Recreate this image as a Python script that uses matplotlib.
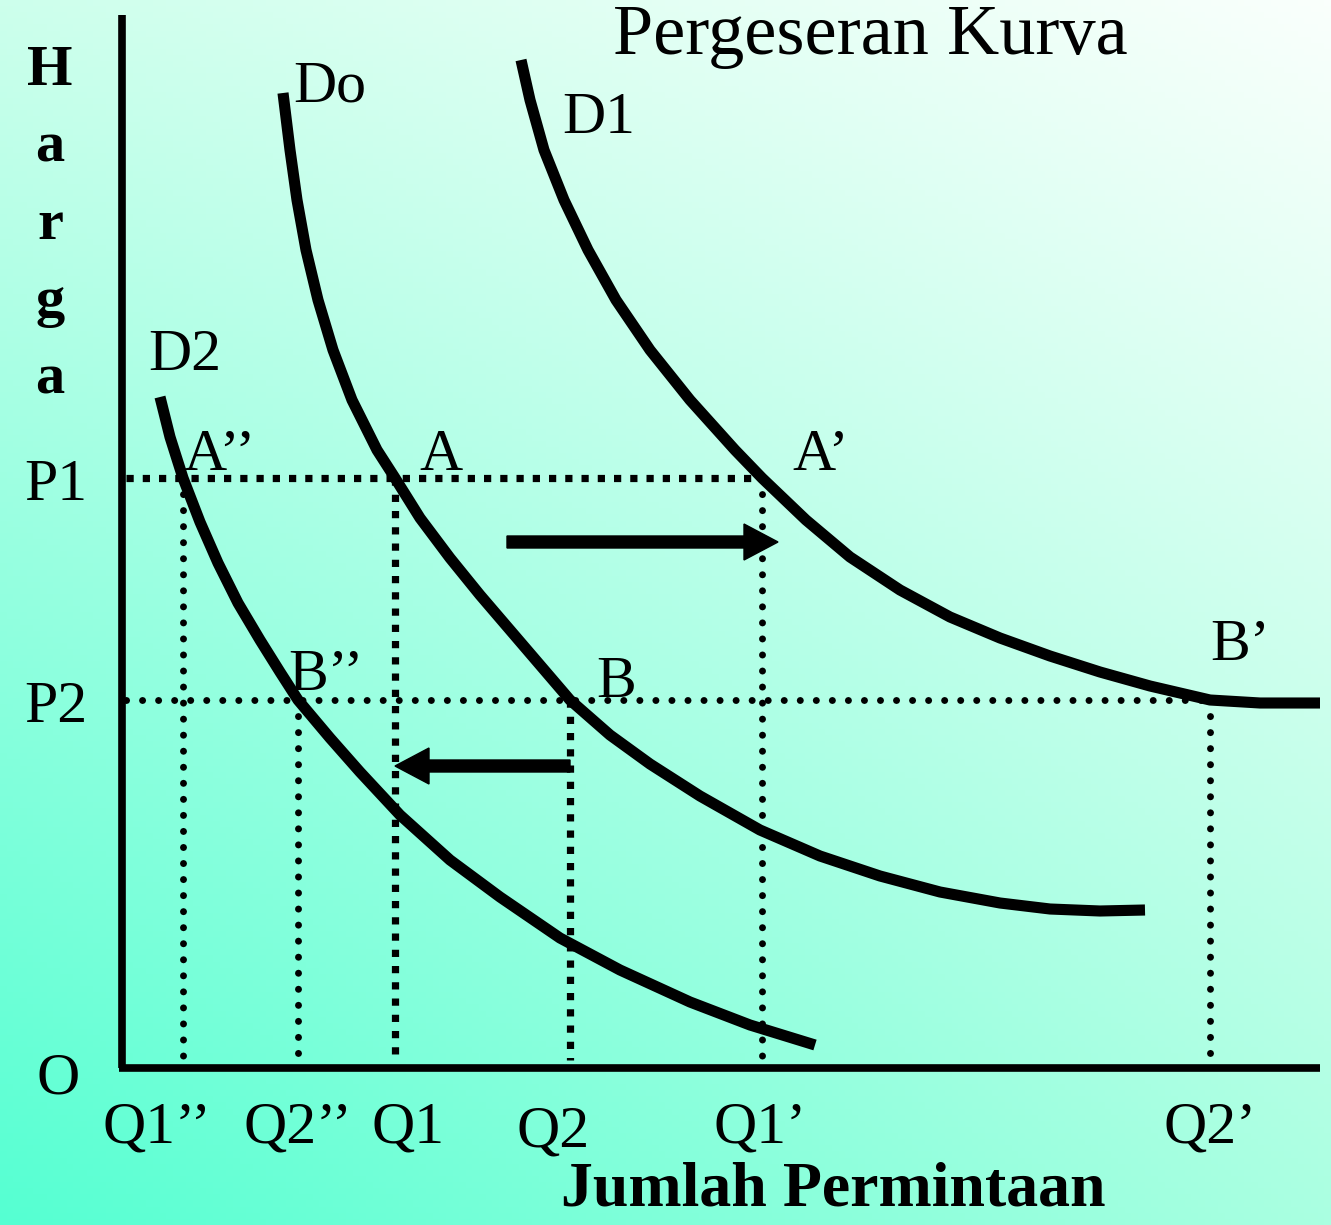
import numpy as np
import matplotlib
matplotlib.use("Agg")
import matplotlib.pyplot as plt

plt.rcParams["font.family"] = ["Liberation Serif", "DejaVu Serif"]

# quantity / price units (origin at the axis corner)
do_q = [161, 168, 175, 184, 196, 211, 230, 255, 273, 298, 328, 358, 388, 418, 448,
        488, 528, 578, 638, 698, 758, 818, 878, 928, 978, 1023]
do_p = [975, 918, 868, 818, 768, 718, 668, 618, 590, 550, 510, 473, 438, 403, 368,
        333, 304, 272, 238, 212, 192, 176, 165, 159, 157, 158]

d1_q = [399, 408, 422, 442, 466, 494, 528, 568, 613, 640, 684, 728, 778, 828, 878,
        928, 978, 1028, 1088, 1138, 1198]
d1_p = [1008, 968, 918, 868, 818, 768, 718, 668, 618, 590, 548, 511, 478, 451, 430,
        412, 396, 382, 368, 365, 365]

d2_q = [38, 48, 61, 78, 96, 116, 138, 158, 176, 208, 238, 278, 328, 378, 438, 498,
        568, 628, 693]
d2_p = [671, 631, 590, 546, 505, 465, 428, 396, 368, 330, 296, 253, 208, 171, 130,
        98, 66, 43, 23]

price_levels = {"P1": 590, "P2": 368}
qty_levels = {"Q1’’": 61, "Q2’’": 176, "Q1": 273, "Q2": 448, "Q1’": 640, "Q2’": 1088}

# (label, q, p) for the intersection points
points = [("A’’", 61, 590), ("A", 273, 590), ("A’", 640, 590),
          ("B’’", 176, 368), ("B", 448, 368), ("B’", 1088, 368)]

W, H = 1331, 1225
X0, Y0 = 122, 1068  # pixel position of the origin

fig = plt.figure(figsize=(W / 100, H / 100), dpi=100)
ax = fig.add_axes([0, 0, 1, 1])
ax.set_xlim(-X0, W - X0)
ax.set_ylim(Y0 - H, Y0)
ax.axis("off")

# background gradient (bilinear between the four corners)
tl = np.array([205, 255, 236]) / 255
tr = np.array([250, 255, 252]) / 255
bl = np.array([85, 255, 210]) / 255
br = np.array([170, 255, 225]) / 255
u = np.linspace(0, 1, 200)[None, :, None]
v = np.linspace(0, 1, 200)[:, None, None]
grad = (1 - v) * ((1 - u) * tl + u * tr) + v * ((1 - u) * bl + u * br)
ax.imshow(grad, extent=(-X0, W - X0, Y0 - H, Y0), origin="upper",
          aspect="auto", zorder=0)

# axes
ax.plot([0, 0], [0, 1053], color="k", lw=5.5, solid_capstyle="butt", zorder=3)
ax.plot([-3, 1198], [0, 0], color="k", lw=5.5, solid_capstyle="butt", zorder=3)

round_dots = dict(color="k", lw=5, linestyle=(0, (0.01, 2.3)),
                  dash_capstyle="round", zorder=2)
square_dots = dict(color="k", lw=5.2, linestyle=(0, (1, 1.25)),
                   dash_capstyle="butt", zorder=2)

# horizontal guides
ax.plot([4, qty_levels["Q1’"]], [price_levels["P1"]] * 2, **square_dots)
ax.plot([4, qty_levels["Q2’"]], [price_levels["P2"]] * 2, **round_dots)

# vertical guides
for name in ["Q1’’", "Q1", "Q1’"]:
    style = square_dots if name == "Q1" else round_dots
    ax.plot([qty_levels[name]] * 2, [price_levels["P1"], 8], **style)
for name in ["Q2’’", "Q2", "Q2’"]:
    style = square_dots if name == "Q2" else round_dots
    ax.plot([qty_levels[name]] * 2, [price_levels["P2"], 8], **style)

# demand curves
for q, p in [(do_q, do_p), (d1_q, d1_p), (d2_q, d2_p)]:
    ax.plot(q, p, color="k", lw=8, solid_capstyle="butt",
            solid_joinstyle="round", zorder=4)

# shift arrows
ax.arrow(385, 526, qty_levels["Q1’"] + 16 - 385, 0, width=12, head_width=36,
         head_length=34, length_includes_head=True, color="k", zorder=5)
ax.arrow(qty_levels["Q2"], 302, qty_levels["Q1"] - qty_levels["Q2"], 0, width=12,
         head_width=36, head_length=34, length_includes_head=True, color="k", zorder=5)

fs = 43
# text labels
ax.text(748, 1014, "Pergeseran Kurva", fontsize=52, ha="center", va="baseline")
for i, ch in enumerate("Harga"):
    ax.text(-72, 983 - i * 77, ch, fontsize=42, fontweight="bold",
            ha="center", va="baseline")
ax.text(711, -137, "Jumlah Permintaan", fontsize=46, fontweight="bold",
        ha="center", va="baseline")

ax.text(-66, price_levels["P1"] - 22, "P1", fontsize=fs, ha="center", va="baseline")
ax.text(-66, price_levels["P2"] - 22, "P2", fontsize=fs, ha="center", va="baseline")
ax.text(-64, -25, "O", fontsize=fs, ha="center", va="baseline")

q_offsets = {"Q1’’": -26, "Q2’’": 0, "Q1": 13, "Q2": -17, "Q1’": -2, "Q2’": 0}
for name, q in qty_levels.items():
    dy = -79 if name == "Q2" else -74
    ax.text(q + q_offsets[name], dy, name, fontsize=fs, ha="center", va="baseline")

pt_offsets = [(37, 8), (46, 8), (59, 8), (28, 10), (46, 3), (30, 40)]
for (name, q, p), (dx, dy) in zip(points, pt_offsets):
    ax.text(q + dx, p + dy, name, fontsize=fs, ha="center", va="baseline")

ax.text(do_q[0] + 47, do_p[0] - 9, "Do", fontsize=fs, ha="center", va="baseline")
ax.text(d1_q[0] + 78, d1_p[0] - 73, "D1", fontsize=fs, ha="center", va="baseline")
ax.text(d2_q[0] + 25, d2_p[0] + 27, "D2", fontsize=fs, ha="center", va="baseline")

fig.savefig("out.png", dpi=100)
